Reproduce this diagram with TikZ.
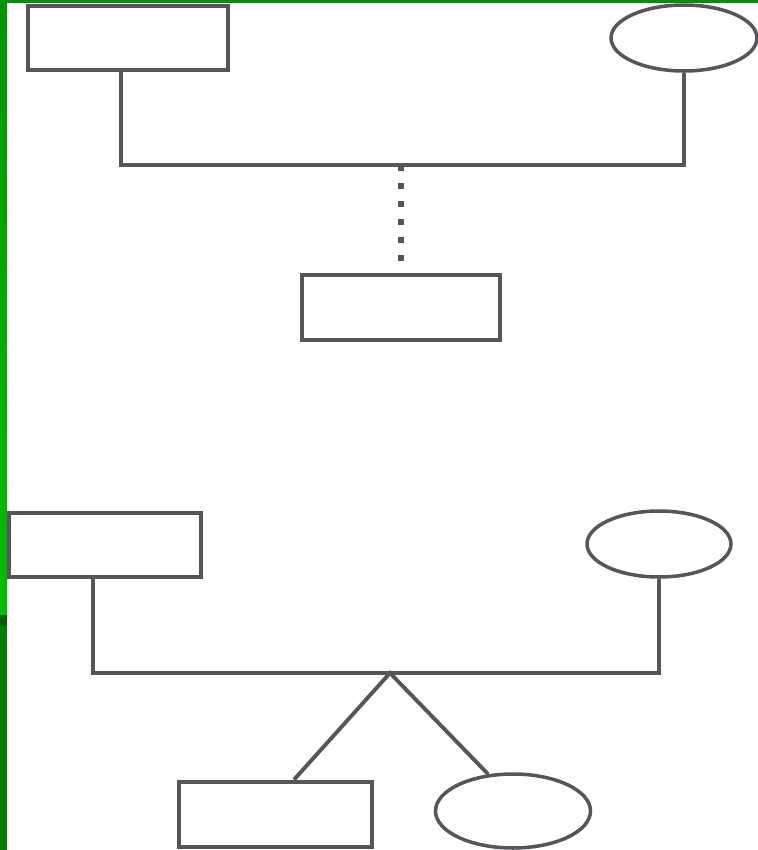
\documentclass[tikz,border=0pt]{standalone}
\usepackage{tikz}
\usetikzlibrary{shapes.geometric}
\definecolor{pedline}{RGB}{86,86,90}
\definecolor{edgegreen}{RGB}{0,150,0}
\definecolor{edgelight}{RGB}{0,190,0}
\definecolor{edgedark}{RGB}{0,95,0}

\begin{document}
\begin{tikzpicture}[x=0.02cm,y=-0.02cm,
  male/.style={draw=pedline,line width=2.7pt,rectangle,inner sep=0pt},
  female/.style={draw=pedline,line width=2pt,ellipse,inner sep=0pt},
  link/.style={draw=pedline,line width=2.2pt}]
  \useasboundingbox (0,0) rectangle (758,850);
  \fill[top color=edgegreen,bottom color=edgelight] (0,0) rectangle (7,615); \fill[edgedark] (0,615) rectangle (7,626); \fill[edgegreen!85!black] (0,626) rectangle (7,850); \fill[edgegreen] (0,0) rectangle (758,3);
  \node[male,minimum width=4cm,minimum height=1.28cm] (m1) at (128,38) {}; \node[female,minimum width=2.92cm,minimum height=1.32cm] (f1) at (684,38) {};
  \node[male,minimum width=3.96cm,minimum height=1.3cm] (k1) at (401,307.5) {};
  \coordinate (j1) at (121,165); \coordinate (j2) at (684,165); \coordinate (c1) at (401,165);
  \draw[link] (m1.south -| j1) -- (j1) -- (j2) -- (f1.south);
  \draw[draw=pedline,line width=3.6pt,dash pattern=on 3.4pt off 6.8pt,shorten >=6.5pt] (c1) -- (k1.north);
  \node[male,minimum width=3.84cm,minimum height=1.28cm] (m2) at (105,545) {}; \node[female,minimum width=2.88cm,minimum height=1.32cm] (f2) at (659,544) {};
  \coordinate (j3) at (93,673); \coordinate (j4) at (659,673); \coordinate (c2) at (390,673);
  \draw[link] (m2.south -| j3) -- (j3) -- (j4) -- (f2.south);
  \node[male,minimum width=3.86cm,minimum height=1.3cm] (k2) at (275.5,814.5) {}; \node[female,minimum width=3.1cm,minimum height=1.48cm] (k3) at (513,811) {};
  \draw[link] (k2.62) -- (c2) -- (k3.124);
\end{tikzpicture}
\end{document}
